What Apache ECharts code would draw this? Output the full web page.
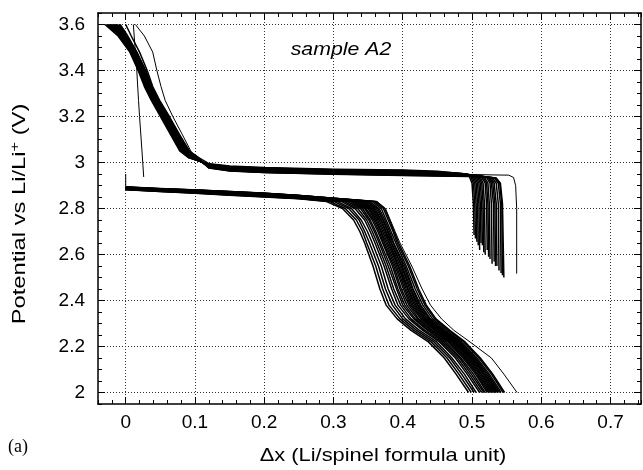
<!DOCTYPE html>
<html><head><meta charset="utf-8">
<script src="https://cdn.jsdelivr.net/npm/echarts@6/dist/echarts.min.js"></script>
<style>html,body{margin:0;padding:0;background:#fff}#c{width:643px;height:470px}</style>
</head><body><div id="c"></div>
<script>
// ---- tick labels ----
const xTickLabels = [0, 0.1, 0.2, 0.3, 0.4, 0.5, 0.6, 0.7];
const yTickLabels = [2, 2.2, 2.4, 2.6, 2.8, 3, 3.2, 3.4, 3.6];

// ---- discharge curves: plateau (V at fixed x) + drop (x at fixed V) ----
const firstDischargeOCV = [0.0, 2.95];
const dischargePlateauX = [0, 0.05, 0.10, 0.15, 0.20, 0.25];
const dischargePlateauV = [
  [2.882, 2.874, 2.866, 2.858, 2.850, 2.842],
  [2.883, 2.874, 2.867, 2.859, 2.851, 2.843],
  [2.883, 2.875, 2.868, 2.860, 2.852, 2.844],
  [2.884, 2.876, 2.869, 2.861, 2.853, 2.845],
  [2.885, 2.877, 2.870, 2.863, 2.855, 2.846],
  [2.886, 2.878, 2.871, 2.864, 2.856, 2.847],
  [2.886, 2.879, 2.872, 2.865, 2.857, 2.848],
  [2.887, 2.879, 2.873, 2.866, 2.857, 2.849],
  [2.888, 2.880, 2.873, 2.866, 2.858, 2.850],
  [2.888, 2.881, 2.874, 2.867, 2.859, 2.850],
  [2.889, 2.881, 2.875, 2.868, 2.860, 2.851],
  [2.889, 2.882, 2.875, 2.868, 2.860, 2.851],
  [2.889, 2.882, 2.876, 2.869, 2.861, 2.852],
  [2.890, 2.883, 2.876, 2.870, 2.861, 2.852],
  [2.890, 2.883, 2.877, 2.870, 2.862, 2.853],
  [2.891, 2.884, 2.877, 2.871, 2.863, 2.854],
  [2.891, 2.884, 2.878, 2.871, 2.863, 2.854],
  [2.891, 2.884, 2.878, 2.872, 2.864, 2.855],
  [2.892, 2.885, 2.879, 2.872, 2.864, 2.855],
  [2.892, 2.885, 2.879, 2.873, 2.865, 2.856],
  [2.893, 2.886, 2.880, 2.873, 2.866, 2.856],
  [2.893, 2.886, 2.880, 2.874, 2.866, 2.857],
  [2.895, 2.888, 2.882, 2.875, 2.868, 2.858]
];
const dischargeDropV = [2.83, 2.80, 2.75, 2.70, 2.65, 2.55, 2.45, 2.38, 2.32, 2.27, 2.22, 2.15, 2.08, 2.00];
const dischargeDropX = [
  [0.290, 0.313, 0.329, 0.338, 0.345, 0.357, 0.367, 0.376, 0.392, 0.412, 0.437, 0.460, 0.477, 0.495],
  [0.295, 0.317, 0.333, 0.342, 0.348, 0.361, 0.371, 0.380, 0.396, 0.416, 0.441, 0.464, 0.481, 0.499],
  [0.301, 0.322, 0.337, 0.345, 0.352, 0.365, 0.375, 0.385, 0.400, 0.420, 0.445, 0.468, 0.485, 0.503],
  [0.306, 0.326, 0.340, 0.349, 0.356, 0.369, 0.379, 0.389, 0.404, 0.424, 0.449, 0.471, 0.489, 0.506],
  [0.312, 0.331, 0.345, 0.353, 0.360, 0.373, 0.384, 0.393, 0.409, 0.429, 0.453, 0.476, 0.493, 0.511],
  [0.316, 0.335, 0.348, 0.356, 0.363, 0.376, 0.387, 0.397, 0.412, 0.432, 0.456, 0.479, 0.496, 0.514],
  [0.320, 0.339, 0.351, 0.359, 0.366, 0.379, 0.391, 0.400, 0.416, 0.436, 0.459, 0.482, 0.499, 0.517],
  [0.324, 0.342, 0.353, 0.361, 0.368, 0.382, 0.393, 0.403, 0.418, 0.438, 0.462, 0.484, 0.502, 0.519],
  [0.327, 0.345, 0.356, 0.364, 0.371, 0.385, 0.396, 0.406, 0.421, 0.441, 0.465, 0.487, 0.505, 0.522],
  [0.330, 0.347, 0.358, 0.366, 0.372, 0.387, 0.398, 0.409, 0.423, 0.443, 0.467, 0.489, 0.507, 0.524],
  [0.333, 0.350, 0.360, 0.368, 0.374, 0.389, 0.401, 0.411, 0.426, 0.446, 0.469, 0.491, 0.509, 0.526],
  [0.336, 0.352, 0.362, 0.369, 0.376, 0.391, 0.403, 0.413, 0.428, 0.448, 0.471, 0.493, 0.511, 0.528],
  [0.338, 0.354, 0.364, 0.371, 0.378, 0.393, 0.405, 0.415, 0.430, 0.450, 0.473, 0.495, 0.513, 0.530],
  [0.341, 0.356, 0.366, 0.373, 0.380, 0.394, 0.407, 0.417, 0.432, 0.452, 0.474, 0.497, 0.514, 0.532],
  [0.343, 0.358, 0.368, 0.375, 0.381, 0.396, 0.408, 0.419, 0.433, 0.453, 0.476, 0.499, 0.516, 0.534],
  [0.345, 0.360, 0.369, 0.376, 0.383, 0.398, 0.410, 0.421, 0.435, 0.455, 0.478, 0.500, 0.518, 0.535],
  [0.348, 0.362, 0.371, 0.378, 0.384, 0.399, 0.412, 0.422, 0.437, 0.457, 0.479, 0.502, 0.519, 0.537],
  [0.350, 0.364, 0.372, 0.379, 0.386, 0.401, 0.414, 0.424, 0.439, 0.459, 0.481, 0.503, 0.521, 0.538],
  [0.352, 0.366, 0.374, 0.381, 0.387, 0.403, 0.415, 0.426, 0.440, 0.460, 0.483, 0.505, 0.523, 0.540],
  [0.356, 0.369, 0.376, 0.383, 0.390, 0.405, 0.418, 0.429, 0.443, 0.463, 0.485, 0.507, 0.525, 0.542],
  [0.359, 0.372, 0.379, 0.386, 0.392, 0.408, 0.421, 0.432, 0.446, 0.466, 0.488, 0.510, 0.528, 0.545],
  [0.362, 0.374, 0.381, 0.3875, 0.394, 0.410, 0.423, 0.434, 0.448, 0.468, 0.490, 0.512, 0.530, 0.547],
  [0.363, 0.375, 0.382, 0.389, 0.396, 0.413, 0.428, 0.440, 0.456, 0.474, 0.497, 0.528, 0.546, 0.565]
];

// ---- charge curves: start (right end), plateau (V at fixed x), rise (x at fixed V) ----
const chargeStart = [
  [[0.503, 2.685], [0.502, 2.82], [0.500, 2.91], [0.496, 2.940], [0.486, 2.952]],
  [[0.505, 2.670], [0.504, 2.82], [0.502, 2.91], [0.498, 2.940], [0.488, 2.951]],
  [[0.507, 2.655], [0.506, 2.82], [0.504, 2.91], [0.500, 2.939], [0.490, 2.950]],
  [[0.509, 2.640], [0.508, 2.82], [0.506, 2.91], [0.502, 2.939], [0.492, 2.950]],
  [[0.511, 2.620], [0.510, 2.82], [0.508, 2.91], [0.504, 2.938], [0.494, 2.949]],
  [[0.513, 2.650], [0.512, 2.82], [0.510, 2.91], [0.506, 2.938], [0.495, 2.948]],
  [[0.515, 2.640], [0.514, 2.82], [0.512, 2.91], [0.508, 2.937], [0.497, 2.947]],
  [[0.517, 2.610], [0.516, 2.82], [0.514, 2.91], [0.510, 2.937], [0.498, 2.947]],
  [[0.519, 2.600], [0.518, 2.82], [0.516, 2.91], [0.512, 2.936], [0.500, 2.946]],
  [[0.522, 2.620], [0.521, 2.82], [0.519, 2.91], [0.514, 2.936], [0.502, 2.945]],
  [[0.524, 2.590], [0.523, 2.82], [0.521, 2.91], [0.516, 2.936], [0.503, 2.945]],
  [[0.526, 2.580], [0.525, 2.82], [0.523, 2.91], [0.518, 2.935], [0.505, 2.944]],
  [[0.529, 2.560], [0.528, 2.82], [0.526, 2.91], [0.521, 2.935], [0.507, 2.943]],
  [[0.532, 2.570], [0.531, 2.82], [0.528, 2.91], [0.523, 2.935], [0.508, 2.942]],
  [[0.534, 2.550], [0.533, 2.82], [0.530, 2.91], [0.525, 2.934], [0.510, 2.942]],
  [[0.536, 2.550], [0.535, 2.82], [0.532, 2.91], [0.527, 2.934], [0.511, 2.941]],
  [[0.539, 2.530], [0.538, 2.82], [0.535, 2.91], [0.529, 2.934], [0.513, 2.940]],
  [[0.542, 2.520], [0.541, 2.82], [0.538, 2.91], [0.532, 2.933], [0.515, 2.939]],
  [[0.544, 2.510], [0.543, 2.82], [0.540, 2.91], [0.534, 2.933], [0.517, 2.939]],
  [[0.546, 2.500], [0.544, 2.82], [0.541, 2.91], [0.535, 2.933], [0.518, 2.938]],
  [[0.5645, 2.517], [0.5645, 2.80], [0.563, 2.90], [0.560, 2.935], [0.553, 2.945], [0.530, 2.946], [0.500, 2.948]]
];
const chargePlateauX = [0.45, 0.40, 0.30, 0.20, 0.15, 0.12];
const chargePlateauV = [
  [2.960, 2.965, 2.969, 2.976, 2.983, 2.993],
  [2.962, 2.967, 2.971, 2.978, 2.985, 2.995],
  [2.958, 2.963, 2.968, 2.975, 2.982, 2.992],
  [2.957, 2.962, 2.967, 2.974, 2.981, 2.991],
  [2.956, 2.961, 2.966, 2.973, 2.980, 2.990],
  [2.955, 2.960, 2.965, 2.972, 2.979, 2.990],
  [2.954, 2.959, 2.964, 2.971, 2.978, 2.989],
  [2.953, 2.958, 2.963, 2.970, 2.977, 2.988],
  [2.952, 2.957, 2.962, 2.969, 2.976, 2.987],
  [2.951, 2.956, 2.961, 2.968, 2.975, 2.986],
  [2.950, 2.954, 2.959, 2.966, 2.973, 2.985],
  [2.949, 2.953, 2.958, 2.965, 2.972, 2.984],
  [2.948, 2.952, 2.957, 2.964, 2.971, 2.983],
  [2.947, 2.950, 2.955, 2.962, 2.969, 2.982],
  [2.946, 2.949, 2.954, 2.961, 2.968, 2.981],
  [2.945, 2.948, 2.953, 2.960, 2.967, 2.980],
  [2.944, 2.947, 2.952, 2.959, 2.966, 2.979],
  [2.943, 2.946, 2.951, 2.958, 2.965, 2.978],
  [2.942, 2.945, 2.950, 2.957, 2.964, 2.977],
  [2.941, 2.944, 2.949, 2.956, 2.963, 2.976],
  [2.945, 2.950, 2.955, 2.962, 2.970, 2.985]
];
const chargeRiseV = [3.02, 3.05, 3.12, 3.20, 3.27, 3.33, 3.40, 3.48, 3.55, 3.60];
const chargeRiseX = [
  [0.091, 0.078, 0.065, 0.050, 0.037, 0.027, 0.018, 0.006, -0.011, -0.030],
  [0.106, 0.092, 0.078, 0.063, 0.049, 0.039, 0.031, 0.020, 0.008, 0.000],
  [0.092, 0.079, 0.066, 0.051, 0.038, 0.028, 0.019, 0.007, -0.010, -0.028],
  [0.093, 0.080, 0.067, 0.052, 0.039, 0.029, 0.020, 0.008, -0.009, -0.026],
  [0.094, 0.081, 0.068, 0.053, 0.039, 0.029, 0.020, 0.008, -0.008, -0.025],
  [0.095, 0.081, 0.068, 0.053, 0.040, 0.030, 0.021, 0.009, -0.007, -0.024],
  [0.095, 0.082, 0.069, 0.054, 0.041, 0.031, 0.022, 0.009, -0.007, -0.023],
  [0.096, 0.083, 0.069, 0.054, 0.041, 0.031, 0.022, 0.010, -0.006, -0.022],
  [0.097, 0.083, 0.070, 0.055, 0.042, 0.032, 0.023, 0.010, -0.005, -0.021],
  [0.098, 0.084, 0.071, 0.056, 0.042, 0.032, 0.023, 0.011, -0.004, -0.020],
  [0.098, 0.085, 0.071, 0.056, 0.043, 0.033, 0.024, 0.011, -0.004, -0.018],
  [0.099, 0.086, 0.072, 0.057, 0.043, 0.033, 0.024, 0.012, -0.003, -0.017],
  [0.100, 0.086, 0.073, 0.058, 0.044, 0.034, 0.025, 0.012, -0.002, -0.016],
  [0.101, 0.087, 0.073, 0.058, 0.044, 0.034, 0.025, 0.013, -0.001, -0.015],
  [0.101, 0.088, 0.074, 0.059, 0.045, 0.035, 0.026, 0.013, 0.000, -0.014],
  [0.102, 0.088, 0.074, 0.059, 0.046, 0.036, 0.027, 0.014, 0.000, -0.013],
  [0.103, 0.089, 0.075, 0.060, 0.046, 0.036, 0.027, 0.014, 0.001, -0.012],
  [0.103, 0.090, 0.076, 0.061, 0.047, 0.037, 0.028, 0.015, 0.001, -0.010],
  [0.104, 0.090, 0.076, 0.061, 0.047, 0.037, 0.028, 0.016, 0.002, -0.009],
  [0.105, 0.091, 0.077, 0.062, 0.048, 0.038, 0.029, 0.016, 0.003, -0.008],
  [0.101, 0.094, 0.082, 0.068, 0.057, 0.051, 0.045, 0.039, 0.027, 0.014]
];
// first short charge from open circuit
const firstChargeX = [0.026, 0.0235, 0.020, 0.0185, 0.016, 0.0135, 0.011];
const firstChargeV = [2.937, 3.05, 3.20, 3.27, 3.40, 3.50, 3.60];

// ---- build series ----
const series = [];
function addLine(data, w) {
  series.push({ type: 'line', data: data, showSymbol: false, symbol: 'none',
    lineStyle: { color: '#000', width: w, join: 'round' }, silent: true, animation: false,
    xAxisIndex: 0, yAxisIndex: 0, z: 3 });
}
const nD = dischargeDropX.length;
dischargeDropX.forEach(function (xs, i) {
  const pts = [];
  if (i === nD - 1) pts.push(firstDischargeOCV);
  dischargePlateauX.forEach(function (x, j) { pts.push([x, dischargePlateauV[i][j]]); });
  dischargeDropV.forEach(function (v, j) { pts.push([xs[j], v]); });
  addLine(pts, i === nD - 1 ? 1 : 1.5);
});
const nC = chargeStart.length;
chargeStart.forEach(function (start, i) {
  const pts = start.slice();
  chargePlateauX.forEach(function (x, j) { pts.push([x, chargePlateauV[i][j]]); });
  chargeRiseV.forEach(function (v, j) { pts.push([chargeRiseX[i][j], v]); });
  addLine(pts, i === nC - 1 ? 1 : 1.5);
});
addLine(firstChargeX.map(function (x, j) { return [x, firstChargeV[j]]; }), 1);

// ---- axes ----
const FONT = 'Liberation Sans';
const XMIN = -0.04, XMAX = 0.744, YMIN = 1.95, YMAX = 3.65;
function fmt(v) { return String(Math.round(v * 10) / 10); }
const frame = { show: true, onZero: false, lineStyle: { color: '#000', width: 1.5 } };
const gridLine = { show: true, lineStyle: { color: '#333', type: [1, 2], width: 1 } };
function major(pos, ticks, isX, withLabel, withGrid) {
  return {
    type: 'value', position: pos, min: isX ? XMIN : YMIN, max: isX ? XMAX : YMAX, splitNumber: 8,
    axisLine: frame,
    axisTick: { show: true, inside: true, length: 7, customValues: ticks, lineStyle: { color: '#000', width: 1 } },
    axisLabel: { show: withLabel, customValues: ticks, formatter: fmt, margin: isX ? 9 : 13,
      fontFamily: FONT, fontSize: 19, color: '#000' },
    splitLine: withGrid ? gridLine : { show: false },
    minorTick: { show: false }, minorSplitLine: { show: false }
  };
}
function minor(pos, isX) {
  return {
    type: 'value', position: pos, min: isX ? XMIN : YMIN, max: isX ? XMAX : YMAX,
    interval: isX ? 0.02 : 0.05,
    axisLine: { show: false, onZero: false },
    axisTick: { show: true, inside: true, length: 4, lineStyle: { color: '#000', width: 1 } },
    axisLabel: { show: false }, splitLine: { show: false }
  };
}

const chart = echarts.init(document.getElementById('c'), null, { renderer: 'canvas' });
chart.setOption({
  animation: false,
  backgroundColor: '#fff',
  grid: { left: 98, top: 13, width: 543, height: 391, containLabel: false, outerBoundsMode: 'none' },
  xAxis: [
    major('bottom', xTickLabels, true, true, true),
    minor('bottom', true),
    major('top', xTickLabels, true, false, false),
    minor('top', true)
  ],
  yAxis: [
    major('left', yTickLabels, false, true, true),
    minor('left', false),
    major('right', yTickLabels, false, false, false),
    minor('right', false)
  ],
  series: series,
  graphic: [
    { type: 'text', x: 383, y: 456, scaleX: 1.15, silent: true,
      style: { text: 'Δx (Li/spinel formula unit)', fontFamily: FONT, fontSize: 19, fill: '#000',
        textAlign: 'center', textVerticalAlign: 'middle' } },
    { type: 'text', x: 20, y: 214, rotation: Math.PI / 2, scaleX: 1.25, silent: true,
      style: { text: 'Potential vs Li/Li{s|+} (V)', fontFamily: FONT, fontSize: 19, fill: '#000',
        textAlign: 'center', textVerticalAlign: 'middle',
        rich: { s: { fontFamily: FONT, fontSize: 13, fill: '#000', padding: [0, 0, 9, 0] } } } },
    { type: 'text', x: 8, y: 447, silent: true,
      style: { text: '(a)', fontFamily: 'Liberation Serif', fontSize: 18, fill: '#000',
        textAlign: 'left', textVerticalAlign: 'middle' } },
    { type: 'text', x: 341, y: 50, scaleX: 1.12, silent: true,
      style: { text: 'sample A2', fontFamily: FONT, fontStyle: 'italic', fontSize: 19, fill: '#000',
        textAlign: 'center', textVerticalAlign: 'middle' } }
  ]
});
</script>
</body></html>
